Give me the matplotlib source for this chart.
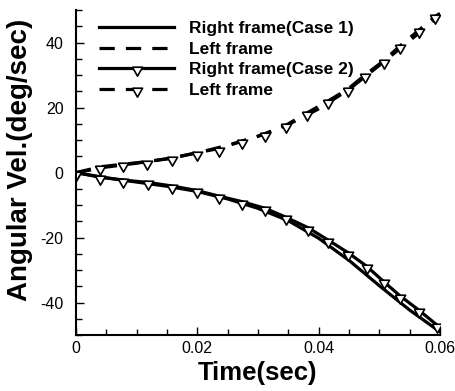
import numpy as np
import matplotlib
matplotlib.use("Agg")
import matplotlib.pyplot as plt
from matplotlib.ticker import MultipleLocator, FormatStrFormatter

plt.rcParams['font.family'] = ['Liberation Sans', 'DejaVu Sans']
plt.rcParams['lines.scale_dashes'] = False

# Caso 1: velocidad angular de cada marco
t1 = [0.0, 0.005, 0.01, 0.015, 0.02, 0.025, 0.03, 0.035, 0.04, 0.045, 0.05, 0.055, 0.06]
right1 = [0.0, -1.6, -2.9, -4.2, -5.8, -8.1, -11.0, -14.8, -20.2, -27.0, -34.8, -42.3, -49.0]
left1 = [0.0, 1.7, 2.9, 4.3, 6.1, 8.4, 11.2, 14.8, 19.6, 25.6, 33.0, 40.6, 48.4]

# Caso 2: puntos con símbolo
t2 = [0.0, 0.004, 0.0078, 0.0118, 0.0158, 0.0199, 0.0235, 0.0273, 0.0312,
      0.0347, 0.0383, 0.0416, 0.0449, 0.0479, 0.0507, 0.0534, 0.0565, 0.0595, 0.06]
right2 = [0.0, -1.4, -2.3, -3.0, -4.1, -5.5, -7.2, -8.9, -11.0,
          -13.8, -17.0, -20.8, -24.7, -28.8, -33.5, -37.9, -42.3, -46.9, -47.9]
t3 = [0.0, 0.004, 0.0078, 0.0117, 0.0158, 0.0199, 0.0235, 0.0273, 0.0312,
      0.0347, 0.038, 0.0416, 0.0448, 0.0476, 0.0507, 0.0534, 0.0565, 0.0592, 0.06]
left2 = [0.0, 1.8, 2.6, 3.4, 4.4, 6.1, 7.4, 9.6, 11.9,
         14.7, 18.3, 22.1, 25.7, 30.0, 34.4, 39.0, 43.8, 48.1, 49.0]

# triángulo invertido colgando de la curva
tri = [(-1.0, 0.25), (1.0, 0.25), (0.0, -1.5), (-1.0, 0.25)]

fig = plt.figure(figsize=(4.55, 3.91), dpi=100)
ax = fig.add_axes([0.167, 0.143, 0.8, 0.831])

lw = 2.3
dash = (11, 8)
ax.plot(t1, right1, color='k', lw=lw, label='Right frame(Case 1)')
ax.plot(t1, left1, color='k', lw=lw, dashes=dash, label='Left frame')
ax.plot(t2, right2, color='k', lw=lw, marker=tri, ms=11, mfc='white', mec='k', mew=1.2,
        markevery=list(range(len(t2) - 1)), label='Right frame(Case 2)')
ax.plot(t3, left2, color='k', lw=lw, dashes=dash, marker=tri, ms=11, mfc='white', mec='k',
        mew=1.2, markevery=list(range(len(t3) - 1)), label='Left frame')

ax.set_xlim(0, 0.06)
ax.set_ylim(-50, 50)
ax.xaxis.set_major_locator(MultipleLocator(0.02))
ax.xaxis.set_minor_locator(MultipleLocator(0.005))
ax.yaxis.set_major_locator(MultipleLocator(20))
ax.yaxis.set_minor_locator(MultipleLocator(5))
ax.xaxis.set_major_formatter(FormatStrFormatter('%g'))
ax.yaxis.set_major_formatter(FormatStrFormatter('%g'))

for s in ['top', 'right']:
    ax.spines[s].set_visible(False)
for s in ['left', 'bottom']:
    ax.spines[s].set_linewidth(1.5)

ax.tick_params(which='both', direction='in', width=1.0, labelsize=11.5)
ax.tick_params(which='major', length=6)
ax.tick_params(which='minor', length=4)
ax.tick_params(axis='x', pad=4)
ax.tick_params(axis='y', pad=9)

ax.set_xlabel('Time(sec)', fontsize=18.5, fontweight='bold', labelpad=4)
ax.set_ylabel('Angular Vel.(deg/sec)', fontsize=20, fontweight='bold')
ax.yaxis.set_label_coords(-0.118, 0.54)

leg = ax.legend(loc='upper left', bbox_to_anchor=(0.021, 1.015), frameon=False,
                handlelength=4.3, handletextpad=0.85, labelspacing=0.32,
                prop={'size': 12.5, 'weight': 'bold'})

fig.savefig('out.png', dpi=100)
